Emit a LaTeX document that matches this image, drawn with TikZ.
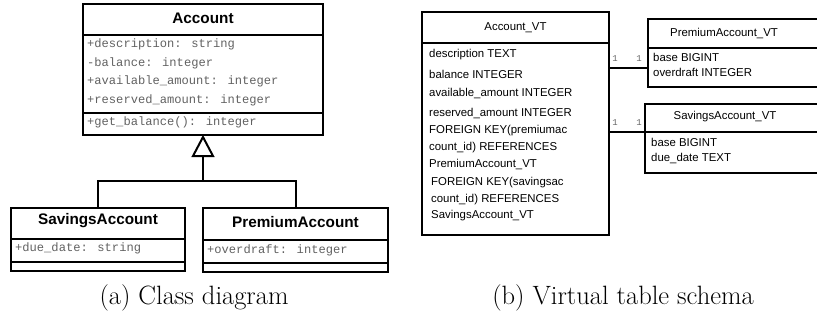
\documentclass[tikz,border=0pt]{standalone}
\usepackage{fontspec}
\newfontfamily\uisans{Liberation Sans}
\newfontfamily\uimono{Liberation Mono}
\begin{document}
\begin{tikzpicture}[x=1pt,y=-1pt,
  umlbox/.style={draw=black,line width=2pt,inner sep=0pt,outer sep=0pt},
  tblbox/.style={draw=black,line width=1.6pt,inner sep=0pt,outer sep=0pt},
  divider/.style={line width=2pt},
  clsname/.style={font=\uisans\bfseries\fontsize{15.3}{17}\selectfont,inner sep=0pt},
  attr/.style={font=\uimono\fontsize{12.1}{14}\selectfont,text=black!62,anchor=west,inner sep=0pt},
  tblname/.style={font=\uisans\fontsize{11.4}{13}\selectfont,inner sep=0pt},
  col/.style={font=\uisans\fontsize{11.4}{13}\selectfont,anchor=west,inner sep=0pt},
  mult/.style={font=\uimono\fontsize{9}{10}\selectfont,text=black!60,inner sep=0pt},
  captext/.style={font=\fontsize{26.5}{30}\selectfont,inner sep=0pt},
  link/.style={line width=1.5pt}]
\useasboundingbox (0,0) rectangle (817,322);
\clip (0,0) rectangle (817,322);

% ---------- (a) class diagram ----------
\node[umlbox,minimum width=240pt,minimum height=131pt] (acc) at (203,69.5) {};
\draw[divider] ([yshift=-31pt]acc.north west) -- ([yshift=-31pt]acc.north east);
\draw[divider] ([yshift=22pt]acc.south west) -- ([yshift=22pt]acc.south east);
\node[clsname] (accn) at (203,18) {Account};
\node[attr] (a1) at (87,44) {+description: string};
\node[attr] (a2) at (87,63) {-balance: integer};
\node[attr] (a3) at (87,81) {+available\_amount: integer};
\node[attr] (a4) at (87,100) {+reserved\_amount: integer};
\node[attr] (a5) at (87,122) {+get\_balance(): integer};

\node[umlbox,minimum width=174pt,minimum height=63pt] (sav) at (98,239.5) {};
\draw[divider] ([yshift=-31pt]sav.north west) -- ([yshift=-31pt]sav.north east);
\draw[divider] ([yshift=9pt]sav.south west) -- ([yshift=9pt]sav.south east);
\node[clsname] (savn) at (98,221) {SavingsAccount};
\node[attr] (s1) at (15,248) {+due\_date: string};

\node[umlbox,minimum width=185pt,minimum height=64pt] (pre) at (295.5,240) {};
\draw[divider] ([yshift=-32pt]pre.north west) -- ([yshift=-32pt]pre.north east);
\draw[divider] ([yshift=9pt]pre.south west) -- ([yshift=9pt]pre.south east);
\node[clsname] (pren) at (295.5,222) {PremiumAccount};
\node[attr] (p1) at (207,250) {+overdraft: integer};

% generalization
\coordinate (tri) at (203,156);
\coordinate (junc) at (203,181);
\draw[line width=2pt,fill=white] (acc.south) ++(0,2) -- ++(10,19) -- ++(-20,0) -- cycle;
\draw[line width=2pt] (tri) -- (junc);
\draw[line width=2pt] (sav.north) |- (junc) -| (pre.north);

\node[captext] (capa) at (194,298) {(a)\ Class diagram};

% ---------- (b) virtual table schema ----------
\node[tblbox,line width=2pt,minimum width=187pt,minimum height=223pt] (avt) at (515.5,123.5) {};
\draw[line width=2.2pt] ([yshift=-31pt]avt.north west) -- ([yshift=-31pt]avt.north east);
\node[tblname] (avtn) at (515.5,28) {Account\_VT};
\node[col] (c1) at (429,55) {description TEXT};
\node[col] (c2) at (429,74) {balance INTEGER};
\node[col] (c3) at (429,93) {available\_amount INTEGER};
\node[col] (c4) at (429,113) {reserved\_amount INTEGER};
\node[col] (c5) at (429,131) {FOREIGN KEY(premiumac};
\node[col] (c6) at (429,148) {count\_id) REFERENCES};
\node[col] (c7) at (429,164) {PremiumAccount\_VT};
\node[col] (c8) at (431,183) {FOREIGN KEY(savingsac};
\node[col] (c9) at (431,200) {count\_id) REFERENCES};
\node[col] (c10) at (431,216) {SavingsAccount\_VT};

\node[tblbox,minimum width=172pt,minimum height=68pt] (pvt) at (734,53) {};
\draw[line width=1.6pt] ([yshift=-29pt]pvt.north west) -- ([yshift=-29pt]pvt.north east);
\node[tblname] (pvtn) at (724,33) {PremiumAccount\_VT};
\node[col] (pc1) at (653,57) {base BIGINT};
\node[col] (pc2) at (653,72) {overdraft INTEGER};

\node[tblbox,minimum width=175pt,minimum height=69pt] (svt) at (732.5,138.5) {};
\draw[line width=1.6pt] ([yshift=-28pt]svt.north west) -- ([yshift=-28pt]svt.north east);
\node[tblname] (svtn) at (725,117) {SavingsAccount\_VT};
\node[col] (sc1) at (651,142) {base BIGINT};
\node[col] (sc2) at (651,158) {due\_date TEXT};

\coordinate (l1) at (0,68);
\coordinate (l2) at (0,132);
\draw[link] (avt.east |- l1) -- (pvt.west |- l1);
\draw[link] (avt.east |- l2) -- (svt.west |- l2);
\node[mult] (m1) at (615,59) {1};
\node[mult] (m2) at (639,59) {1};
\node[mult] (m3) at (615,123) {1};
\node[mult] (m4) at (639,123) {1};

\node[captext] (capb) at (623,298) {(b)\ Virtual table schema};
\end{tikzpicture}
\end{document}
